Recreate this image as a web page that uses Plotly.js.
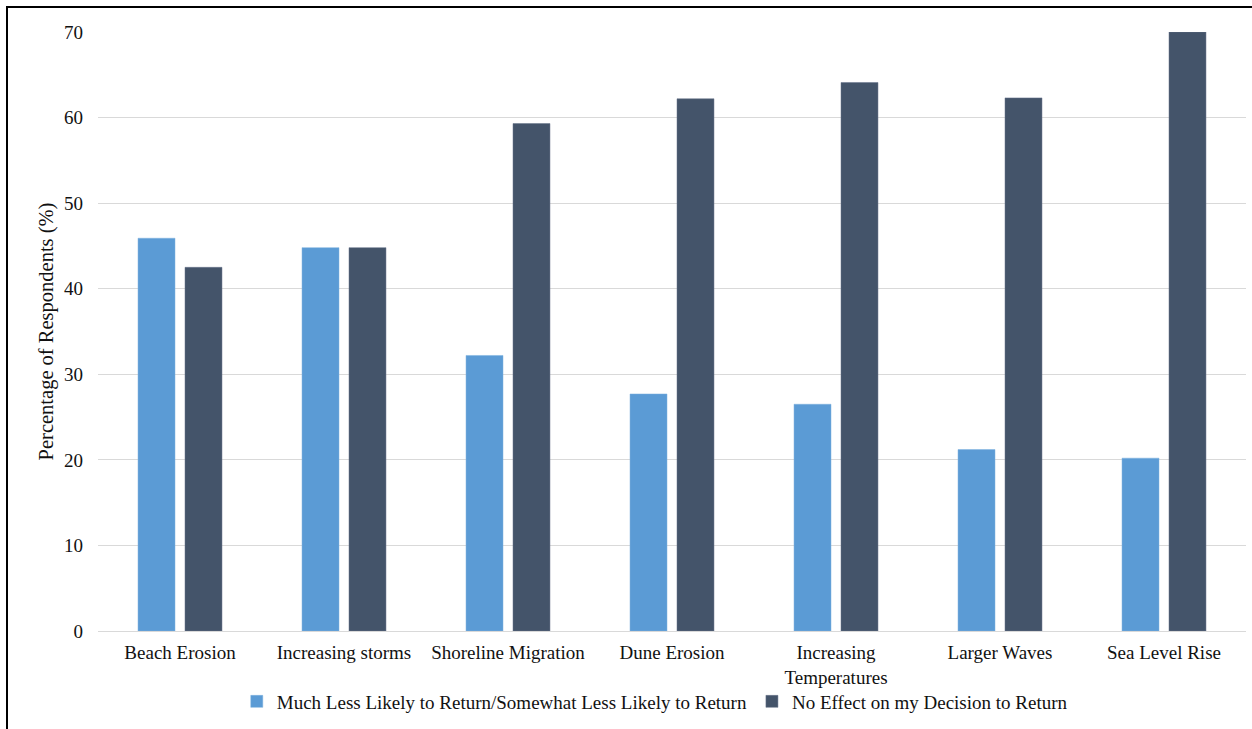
<!DOCTYPE html>
<html>
<head>
<meta charset="utf-8">
<script src="https://cdn.plot.ly/plotly-3.0.1.min.js"></script>
<style>
  html, body { margin: 0; padding: 0; background: #fff; }
  #chart { width: 1252px; height: 729px; }
  #frame { position: absolute; left: 6px; top: 6px; width: 1252px; height: 729px;
           border-left: 2px solid #000; border-top: 2px solid #000; pointer-events: none; }
</style>
</head>
<body>
<div id="chart"></div>
<div id="frame"></div>
<script>
const categories = ["Beach Erosion", "Increasing storms", "Shoreline Migration", "Dune Erosion",
                    "Increasing<br>Temperatures", "Larger Waves", "Sea Level Rise"];
const lessLikely = [45.9, 44.8, 32.2, 27.7, 26.5, 21.2, 20.2];
const noEffect   = [42.5, 44.8, 59.3, 62.2, 64.1, 62.3, 70.0];
const seriesNames = ["Much Less Likely to Return/Somewhat Less Likely to Return",
                     "No Effect on my Decision to Return"];
const yTicks = [0, 10, 20, 30, 40, 50, 60, 70];

const font = { family: "Liberation Serif, 'Times New Roman', serif", size: 19, color: "#111" };

const traces = [
  { type: "bar", x: categories, y: lessLikely, name: seriesNames[0],
    marker: { color: "#5B9BD5", line: { color: "#7DB0DF", width: 0.5 } } },
  { type: "bar", x: categories, y: noEffect, name: seriesNames[1],
    marker: { color: "#44546A", line: { color: "#66738A", width: 0.5 } } }
];

const layout = {
  width: 1252, height: 729,
  margin: { l: 98, r: 6, t: 32, b: 98 },
  paper_bgcolor: "#fff", plot_bgcolor: "#fff",
  font: font,
  barmode: "group",
  bargap: 0.427,
  bargroupgap: 0.213,
  showlegend: true,
  legend: { orientation: "h", x: 0.485, xanchor: "center", y: -0.086, yanchor: "top",
            font: font, itemwidth: 30, traceorder: "normal", bgcolor: "rgba(0,0,0,0)" },
  xaxis: {
    type: "category",
    tickfont: font,
    showgrid: false,
    showline: false,
    ticks: "",
    ticklabelstandoff: 8
  },
  yaxis: {
    range: [0, 70],
    tickvals: yTicks,
    tickfont: font,
    showgrid: true, gridcolor: "#D9D9D9", gridwidth: 1,
    zeroline: true, zerolinecolor: "#D9D9D9", zerolinewidth: 1,
    showline: false, ticks: "",
    ticklabelstandoff: 14,
    title: { text: "Percentage of Respondents (%)", font: { family: font.family, size: 20.5, color: "#111" }, standoff: 4 }
  }
};

Plotly.newPlot("chart", traces, layout, { displayModeBar: false, staticPlot: true });
</script>
</body>
</html>
